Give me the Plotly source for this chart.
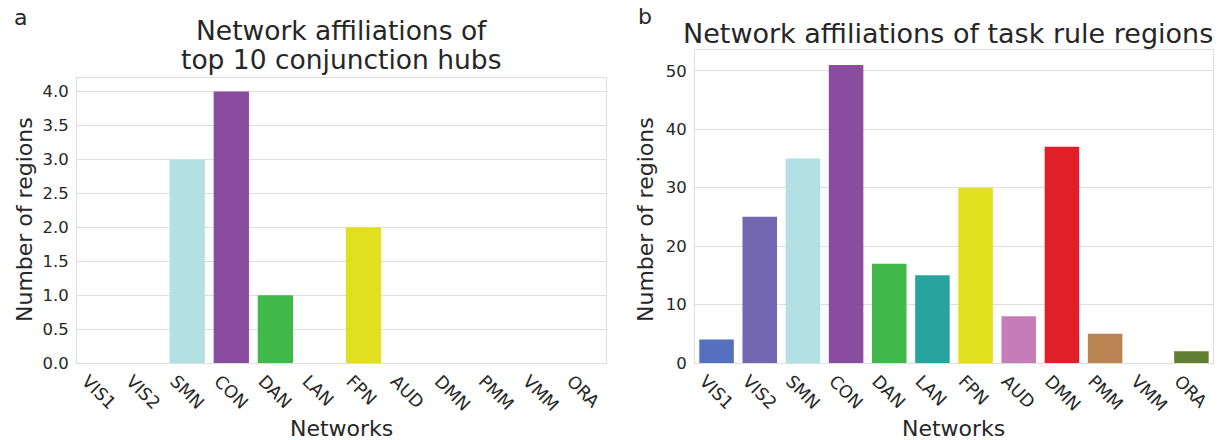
import plotly.graph_objects as go

networks = ["VIS1", "VIS2", "SMN", "CON", "DAN", "LAN", "FPN", "AUD", "DMN", "PMM", "VMM", "ORA"]
network_colors = ["#5470bf", "#7467b1", "#b3e1e3", "#8a4c9f", "#40b84a", "#27a59c",
                  "#e1e01f", "#c47db9", "#e01f28", "#b98451", "#9aa0a6", "#627f31"]
hub_counts = [0, 0, 3, 4, 1, 0, 2, 0, 0, 0, 0, 0]
rule_counts = [4, 25, 35, 51, 17, 15, 30, 8, 37, 5, 0, 2]

FONT = "DejaVu Sans"
INK = "#262626"
GRID = "#dedede"
W, H = 1228, 440

fig = go.Figure()
fig.add_trace(go.Bar(x=networks, y=hub_counts, marker=dict(color=network_colors, line=dict(width=0)),
                     width=0.8, xaxis="x", yaxis="y", showlegend=False))
fig.add_trace(go.Bar(x=networks, y=rule_counts, marker=dict(color=network_colors, line=dict(width=0)),
                     width=0.8, xaxis="x2", yaxis="y2", showlegend=False))

axis_common = dict(showline=True, mirror=True, linecolor=GRID, linewidth=1, automargin=False, ticks="")
x_common = dict(tickangle=45, showgrid=False, range=[-0.5, 11.5], ticklabelshift=-12,
                tickfont=dict(family=FONT, size=17.5, color=INK), **axis_common)
y_common = dict(showgrid=True, gridcolor=GRID, gridwidth=1, zeroline=False, ticklabelstandoff=4,
                tickfont=dict(family=FONT, size=16.5, color=INK), **axis_common)

fig.update_layout(
    width=W, height=H,
    margin=dict(l=0, r=0, t=0, b=0, autoexpand=False),
    paper_bgcolor="white", plot_bgcolor="white",
    font=dict(family=FONT, color=INK),
    xaxis=dict(domain=[77 / W, 606 / W], anchor="y", **x_common),
    yaxis=dict(domain=[1 - 363 / H, 1 - 78 / H], anchor="x", range=[0, 4.2], dtick=0.5,
               tickformat=".1f", **y_common),
    xaxis2=dict(domain=[695 / W, 1213 / W], anchor="y2", **x_common),
    yaxis2=dict(domain=[1 - 363 / H, 1 - 50 / H], anchor="x2", range=[0, 53.55], dtick=10, **y_common),
)

ann = []
def label(text, x, y, size, **kw):
    ann.append(dict(text=text, x=x / W, y=1 - y / H, xref="paper", yref="paper", showarrow=False,
                    xanchor=kw.pop("xanchor", "center"), yanchor="middle",
                    font=dict(family=FONT, size=size, color=INK), **kw))

label("a", 12, 18, 22, xanchor="left")
label("b", 636, 16, 22, xanchor="left")
label("Network affiliations of", 341, 31, 26.5)
label("top 10 conjunction hubs", 341, 60, 26.5)
label("Network affiliations of task rule regions", 948, 33.5, 27)
label("Number of regions", 24, 220, 22, textangle=-90)
label("Number of regions", 645, 220, 22, textangle=-90)
label("Networks", 341, 428, 22)
label("Networks", 953, 428, 22)
fig.update_layout(annotations=ann)

fig.write_html("out.html")
